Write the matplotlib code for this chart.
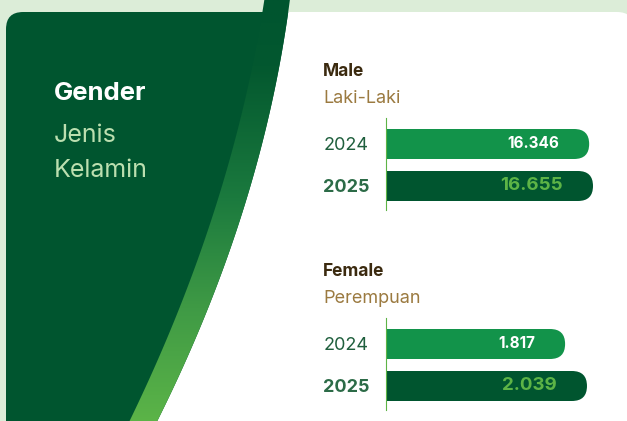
import numpy as np
import matplotlib.pyplot as plt
from matplotlib.patches import FancyBboxPatch, Polygon
from matplotlib.colors import LinearSegmentedColormap
from matplotlib.transforms import offset_copy

# Data
years = ["2024", "2025"]
male_values = [16346, 16655]
female_values = [1817, 2039]
male_labels = ["16.346", "16.655"]
female_labels = ["1.817", "2.039"]

# Colours
bg_light = "#dcedd8"
dark_green = "#00552f"
mid_green = "#12934a"
lime = "#5db446"
brown_dark = "#3b2a0f"
brown_light = "#9b7a40"
year_col = "#1f5f3d"

W, H = 627, 421
fig = plt.figure(figsize=(W / 100, H / 100), dpi=100)
fig.patch.set_facecolor(bg_light)

# Background axes in pixel coordinates
bg = fig.add_axes([0, 0, 1, 1])
bg.set_xlim(0, W)
bg.set_ylim(H, 0)
bg.axis("off")

card = FancyBboxPatch((6, 12), 628, 460, boxstyle="round,pad=0,rounding_size=17",
                      facecolor="white", edgecolor="none")
bg.add_patch(card)

# Curved dark panel and the gradient stripe
yy = np.linspace(0, 440, 200)
outer_y = [12, 40, 100, 180, 240, 300, 360, 380, 421]
outer_x = [288, 284, 273, 252, 233, 211, 187, 177, 157]
inner_y = [12, 60, 100, 180, 240, 300, 360, 380, 421]
inner_x = [263, 253, 245, 223, 205, 183, 158, 149, 129]
ox = np.polyval(np.polyfit(outer_y, outer_x, 2), yy)
ix = np.polyval(np.polyfit(inner_y, inner_x, 2), yy)

panel = Polygon(np.vstack([np.column_stack([ox, yy]), [[0, 440], [0, 0]]]),
                closed=True, facecolor=dark_green, edgecolor="none")
bg.add_patch(panel)
panel.set_clip_path(card)

stripe = Polygon(np.vstack([np.column_stack([ox, yy]), np.column_stack([ix, yy])[::-1]]),
                 closed=True, facecolor="none", edgecolor="none")
bg.add_patch(stripe)
cmap = LinearSegmentedColormap.from_list(
    "stripe", [(0, dark_green), (0.15, "#03582f"), (0.45, "#1b7a3e"),
               (0.7, "#3f9a45"), (1.0, "#60b848")])
grad = np.linspace(0, 1, 256).reshape(-1, 1)[::-1]
im = bg.imshow(grad, cmap=cmap, extent=[100, 300, 0, 440], origin="upper",
               aspect="auto", zorder=2)
im.set_clip_path(stripe)
bg.set_xlim(0, W)
bg.set_ylim(H, 0)

# Left panel text
bg.text(54, 100, "Gender", color="white", fontsize=18.5, fontweight="bold",
        family="Inter", va="baseline", zorder=5)
bg.text(54, 142, "Jenis", color="#bcdfb0", fontsize=18, family="Inter",
        va="baseline", zorder=5)
bg.text(54, 177, "Kelamin", color="#bcdfb0", fontsize=18, family="Inter",
        va="baseline", zorder=5)

# Group titles
groups = [
    ("Male", "Laki-Laki", male_values, male_labels, 76, 118, 19390),
    ("Female", "Perempuan", female_values, female_labels, 276, 318, 2445),
]

for title, subtitle, values, labels, base, top_px, xmax in groups:
    bg.text(323, base, title, color=brown_dark, fontsize=12.5, fontweight="bold",
            family="Inter", va="baseline")
    bg.text(323, base + 27, subtitle, color=brown_light, fontsize=13,
            family="Inter", va="baseline")

    ax_h = 92
    ax = fig.add_axes([386 / W, (H - top_px - ax_h) / H, (W - 386) / W, ax_h / H])
    ax.set_facecolor("none")
    ax.set_xlim(0, xmax)
    px_per_unit = 42
    ax.set_ylim(1 + 24 / px_per_unit, -26 / px_per_unit)

    xu_per_px = xmax / (W - 386)
    yu_per_px = 1 / px_per_unit
    bar_h = 30 / px_per_unit
    r = 15 * xu_per_px
    colors = [mid_green, dark_green]
    for i, v in enumerate(values):
        bar = FancyBboxPatch((-3 * r, i - bar_h / 2), v + 3 * r, bar_h,
                             boxstyle=f"round,pad=0,rounding_size={r}",
                             mutation_aspect=yu_per_px / xu_per_px,
                             facecolor=colors[i], edgecolor="none")
        ax.add_patch(bar)

    tr = offset_copy(ax.transData, fig=fig, x=-30, y=0, units="dots")
    ax.text(values[0], 0, labels[0], transform=tr, ha="right", va="center",
            color="white", fontsize=11, fontweight="bold", family="Inter")
    ax.text(values[1], 1, labels[1], transform=tr, ha="right", va="center",
            color=lime, fontsize=13.5, fontweight="bold", family="Inter")

    for s in ["top", "right", "bottom"]:
        ax.spines[s].set_visible(False)
    ax.spines["left"].set_color(lime)
    ax.spines["left"].set_linewidth(0.8)
    ax.set_xticks([])
    ax.set_yticks([0, 1])
    ax.set_yticklabels(years)
    ax.tick_params(axis="y", length=0, pad=45)
    for j, t in enumerate(ax.get_yticklabels()):
        t.set_ha("left")
        t.set_family("Inter")
        t.set_fontsize(13)
        t.set_color(year_col if j == 0 else "#2c6b47")
        t.set_fontweight("normal" if j == 0 else "bold")

fig.savefig("out.png", dpi=100, facecolor=fig.get_facecolor())
